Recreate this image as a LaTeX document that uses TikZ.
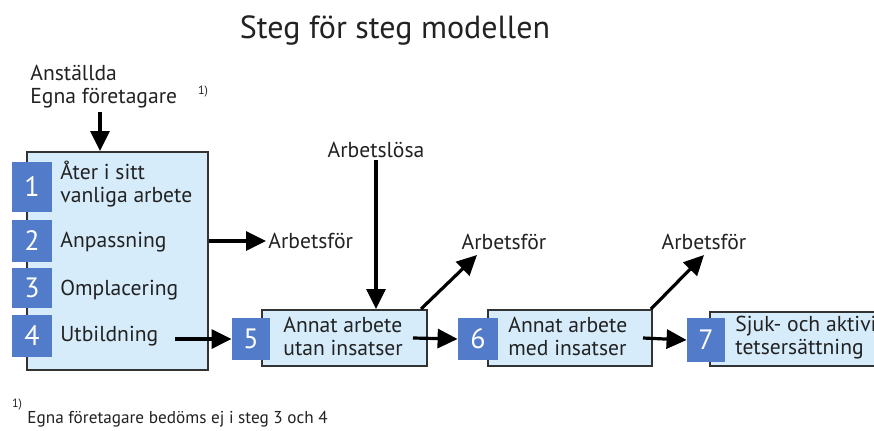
\documentclass[tikz,border=0pt]{standalone}
\usepackage{fontspec}
\setmainfont{PT Sans}
\usetikzlibrary{positioning, arrows.meta, calc}
\definecolor{lb}{RGB}{214, 236, 251}
\definecolor{nb}{RGB}{82, 124, 202}
\definecolor{tx}{HTML}{222222}
\definecolor{ram}{HTML}{333333}

\begin{document}
\begin{tikzpicture}[x=0.5pt, y=-0.5pt,
	box/.style={draw=ram, line width=1pt, fill=lb, inner sep=0pt},
	nr/.style={fill=nb, text=white, font=\fontsize{14}{14}\selectfont, inner sep=0pt, minimum width=20pt},
	etikett/.style={text=tx, font=\fontsize{10.8}{11.5}\selectfont, align=left, inner sep=1pt},
	pil/.style={draw=black, line width=1.6pt, -{Triangle[length=10pt, width=9.5pt]}}
	]
				\clip (0,0) rectangle (874,430);
				\fill[white] (0,0) rectangle (874,430);
				
				\node[text=tx, font=\fontsize{16}{18}\selectfont] (titel) at (395,30) {Steg för steg modellen};
				
				% steg 1-4
				\node[etikett, anchor=west] (in) at (28,87) {Anställda\\Egna företagare};
				\node[text=tx, font=\fontsize{6}{7}\selectfont, inner sep=0pt] (fn1) at (203,92) {1)};
				\node[box, minimum width=90.5pt, minimum height=109pt] (b14) at (117.5,261) {};
				\node[nr, minimum height=25pt] (n1) at (32,187) {1};
				\node[nr, minimum height=21pt] (n2) at (32,241) {2};
				\node[nr, minimum height=20pt] (n3) at (32,288) {3};
				\node[nr, minimum height=21pt] (n4) at (32,336) {4};
				\node[etikett, anchor=west] (l1) at (58,184) {Åter i sitt\\vanliga arbete};
				\node[etikett, anchor=west] (l2) at (58,242) {Anpassning};
				\node[etikett, anchor=west] (l3) at (58,290) {Omplacering};
				\node[etikett, anchor=west] (l4) at (58,336) {Utbildning};
				
				\coordinate (inpil) at (100,112);
				\draw[pil] (inpil) -- (inpil |- b14.north);
				
				\node[etikett, anchor=west] (af1) at (266,241) {Arbetsför};
				\draw[pil] (b14.east |- af1.west) -- (af1.west);
				
				% steg 5
				\node[box, minimum width=82.5pt, minimum height=28pt] (b5) at (344.5,338) {};
				\node[nr, minimum height=21pt, minimum width=19pt] (n5) at (251,339) {5};
				\node[etikett, anchor=west] (t5) at (281,336) {Annat arbete\\utan insatser};
				\draw[pil] ([xshift=7pt]l4.east |- n5.west) -- (n5.west);
				
				\node[etikett] (al) at (376,150) {Arbetslösa};
				\draw[pil] (al.south) -- (al.south |- b5.north);
				
				\node[etikett] (af2) at (504,242) {Arbetsför};
				\coordinate (af2pil) at (477,255);
				\draw[pil] ([xshift=-3.5pt]b5.north east) -- (af2pil);
				
				% steg 6
				\node[box, minimum width=82pt, minimum height=28pt] (b6) at (570,338) {};
				\node[nr, minimum height=21pt, minimum width=20pt] (n6) at (478,339) {6};
				\node[etikett, anchor=west] (t6) at (506,336) {Annat arbete\\med insatser};
				\draw[pil] ([xshift=-7.5pt]b5.east) -- (n6.west);
				
				\node[etikett] (af3) at (704,242) {Arbetsför};
				\coordinate (af3pil) at (704,255);
				\draw[pil] ([xshift=-1pt]b6.north east) -- (af3pil);
				
				% steg 7
				\node[box, minimum width=95pt, minimum height=27pt] (b7) at (805,339) {};
				\node[nr, minimum height=22pt, minimum width=19pt] (n7) at (706,340) {7};
				\node[etikett, anchor=west] (t7) at (733,338) {Sjuk- och aktivi-\\tetsersättning};
				\draw[pil] ([xshift=-5pt]b6.east) -- (n7.west);
				
				% fotnot
				\node[text=tx, font=\fontsize{6}{7}\selectfont, inner sep=0pt] (fn2) at (17,405) {1)};
				\node[text=tx, font=\fontsize{8.6}{9}\selectfont, anchor=west, inner sep=0pt] (fot) at (27,419) {Egna företagare bedöms ej i steg 3 och 4};
			\end{tikzpicture}
\end{document}
